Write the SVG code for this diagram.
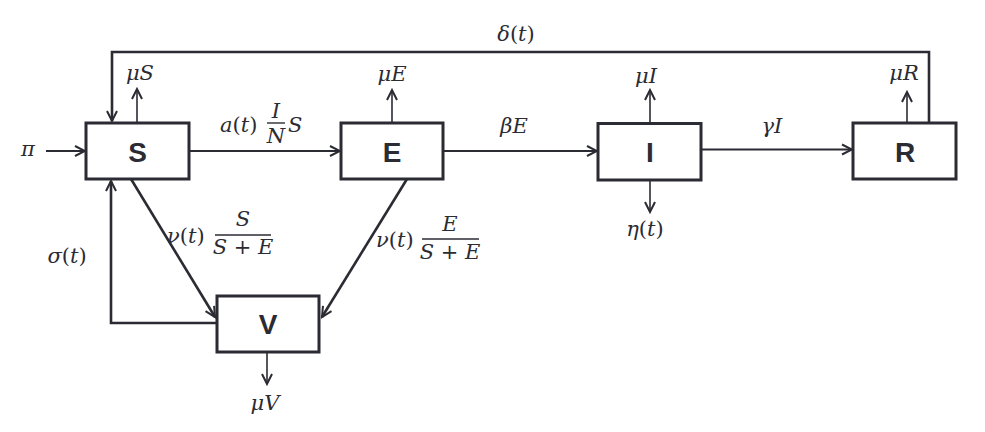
<svg xmlns="http://www.w3.org/2000/svg" width="985" height="432" viewBox="0 0 985 432">
<defs>
<marker id="arr" viewBox="-12 -7 14 14" refX="0" refY="0" markerWidth="14" markerHeight="14" markerUnits="userSpaceOnUse" orient="auto">
<path d="M-10,-5 L0,0 L-10,5" fill="none" stroke="#2b2b33" stroke-width="2" stroke-linejoin="miter"/>
</marker>
</defs>
<style>
.box{fill:#fff;stroke:#2b2b33;stroke-width:3}
.lbl{font-family:"Liberation Sans",Arial,sans-serif;font-weight:bold;font-size:28px;fill:#2b2b33;text-anchor:middle}
.m{font-family:"DejaVu Serif","Liberation Serif",serif;font-style:italic;font-size:21px;fill:#2b2b33}
.c{text-anchor:middle}
.up{font-style:normal}
.ln{fill:none;stroke:#2b2b33;stroke-width:2;marker-end:url(#arr)}
.thin{fill:none;stroke:#2b2b33;stroke-width:1.6;marker-end:url(#arr)}
.thick{fill:none;stroke:#2b2b33;stroke-width:2.6;marker-end:url(#arr)}
.fr{stroke:#2b2b33;stroke-width:1.4}
</style>
<rect width="985" height="432" fill="#fff"/>
<g id="connectors">
<line class="ln" x1="46" y1="151" x2="85" y2="151"/>
<line class="ln" x1="189" y1="151" x2="340" y2="151"/>
<line class="ln" x1="443" y1="151" x2="597" y2="151"/>
<line class="ln" x1="701" y1="149.5" x2="852" y2="149.5"/>
<line class="thin" x1="137" y1="122" x2="137" y2="89"/>
<line class="thin" x1="392" y1="122" x2="392" y2="90"/>
<line class="thin" x1="650" y1="122" x2="650" y2="90"/>
<line class="thin" x1="650" y1="181" x2="650" y2="212"/>
<line class="thin" x1="907" y1="122" x2="907" y2="92"/>
<line class="thin" x1="267" y1="353" x2="267" y2="384"/>
<polyline class="thick" points="929,122 929,52 112,52 112,121"/>
<polyline class="thick" points="217,323 111,323 111,181"/>
<line class="thick" x1="131" y1="179" x2="215" y2="317"/>
<line class="thick" x1="407" y1="179" x2="322" y2="317"/>
</g>
<g id="node-S"><rect class="box" x="86" y="123" width="103" height="56"/><text class="lbl" x="137.5" y="161.5">S</text></g>
<g id="node-E"><rect class="box" x="341" y="123" width="102" height="56"/><text class="lbl" x="392" y="161.5">E</text></g>
<g id="node-I"><rect class="box" x="598" y="123.5" width="103" height="56.5"/><text class="lbl" x="650" y="162">I</text></g>
<g id="node-R"><rect class="box" x="853" y="123" width="103" height="56"/><text class="lbl" x="905" y="161.5">R</text></g>
<g id="node-V"><rect class="box" x="217" y="296" width="102" height="56"/><text class="lbl" x="268" y="334">V</text></g>
<g id="labels">
<text class="m c" x="516" y="41">δ<tspan class="up">(</tspan>t<tspan class="up">)</tspan></text>
<text class="m c" x="140" y="80">μS</text>
<text class="m c" x="392" y="81">μE</text>
<text class="m c" x="646" y="83">μI</text>
<text class="m c" x="904" y="80">μR</text>
<text class="m c" x="28" y="156">π</text>
<text class="m" x="220" y="132">a<tspan class="up">(</tspan>t<tspan class="up">)</tspan></text>
<text class="m c" x="276" y="118">I</text>
<line class="fr" x1="267" y1="123" x2="285" y2="123"/>
<text class="m c" x="276" y="143">N</text>
<text class="m" x="288" y="132">S</text>
<text class="m c" x="514" y="133">βE</text>
<text class="m c" x="772" y="133">γI</text>
<text class="m c" x="645" y="236">η<tspan class="up">(</tspan>t<tspan class="up">)</tspan></text>
<text class="m c" x="67" y="263">σ<tspan class="up">(</tspan>t<tspan class="up">)</tspan></text>
<text class="m" x="167" y="243">ν<tspan class="up">(</tspan>t<tspan class="up">)</tspan></text>
<text class="m c" x="243" y="226">S</text>
<line class="fr" x1="215" y1="235" x2="271" y2="235"/>
<text class="m c" x="243" y="254">S <tspan class="up">+</tspan> E</text>
<text class="m" x="376" y="247">ν<tspan class="up">(</tspan>t<tspan class="up">)</tspan></text>
<text class="m c" x="450" y="231">E</text>
<line class="fr" x1="422" y1="239" x2="479" y2="239"/>
<text class="m c" x="450" y="259">S <tspan class="up">+</tspan> E</text>
<text class="m c" x="265" y="410">μV</text>
</g>
</svg>
